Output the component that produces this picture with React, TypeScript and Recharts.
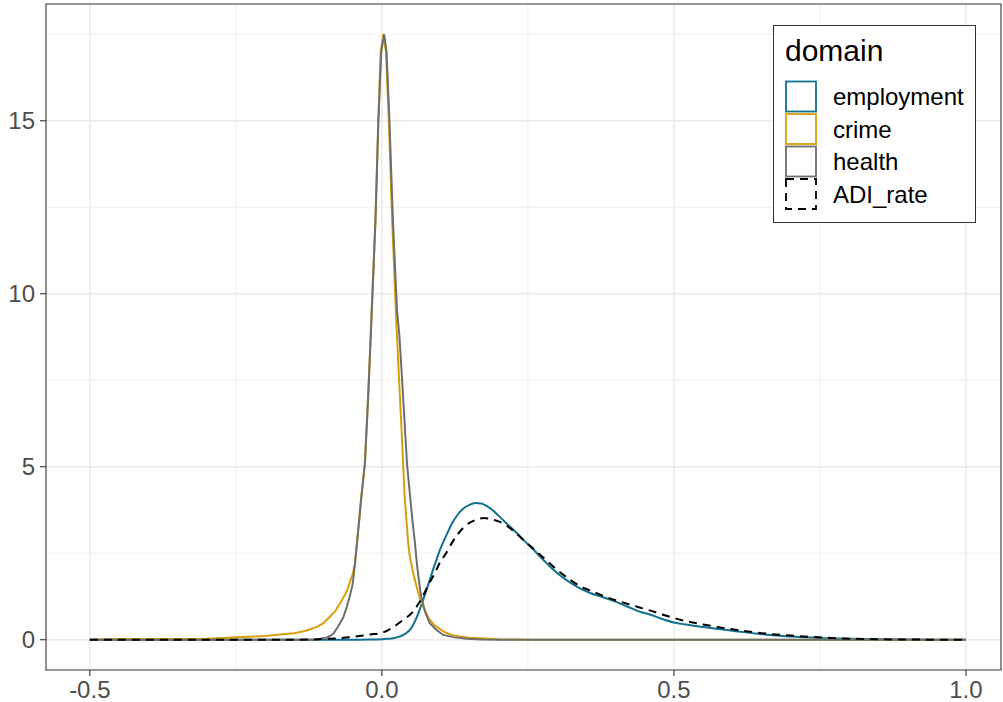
import React from 'react';
import { LineChart, Line, XAxis, YAxis, CartesianGrid, ReferenceArea, Legend } from 'recharts';

// ---- data ----
const seriesNames = ['employment', 'crime', 'health', 'ADI_rate'];
const seriesColors = ['#10708F', '#D89F0B', '#6E6E6E', '#000000'];

const xTicks = [-0.5, 0, 0.5, 1.0];
const yTicks = [0, 5, 10, 15];
const xMinor = [-0.25, 0.25, 0.75];
const yMinor = [2.5, 7.5, 12.5, 17.5];

const employmentX = [-0.5, -0.1, -0.04, -0.02, 0.0, 0.01, 0.02, 0.03, 0.04, 0.05, 0.06, 0.07, 0.08, 0.09, 0.10, 0.11, 0.12, 0.13, 0.14, 0.15, 0.16, 0.17, 0.18, 0.19, 0.20, 0.21, 0.22, 0.23, 0.24, 0.25, 0.26, 0.27, 0.28, 0.29, 0.30, 0.32, 0.34, 0.36, 0.38, 0.40, 0.42, 0.44, 0.46, 0.48, 0.50, 0.52, 0.55, 0.58, 0.61, 0.64, 0.67, 0.70, 0.75, 0.80, 0.85, 0.90, 0.95, 1.0];
const employmentY = [0, 0, 0, 0.003, 0.012, 0.025, 0.045, 0.09, 0.17, 0.33, 0.66, 1.12, 1.62, 2.14, 2.62, 3.0, 3.36, 3.62, 3.8, 3.9, 3.95, 3.94, 3.86, 3.74, 3.58, 3.42, 3.26, 3.1, 2.93, 2.76, 2.6, 2.42, 2.25, 2.08, 1.93, 1.68, 1.48, 1.33, 1.22, 1.1, 0.96, 0.82, 0.72, 0.6, 0.5, 0.44, 0.37, 0.3, 0.24, 0.18, 0.13, 0.09, 0.05, 0.03, 0.015, 0.007, 0.002, 0];

const crimeX = [-0.5, -0.45, -0.4, -0.35, -0.3, -0.27, -0.25, -0.22, -0.2, -0.17, -0.15, -0.13, -0.11, -0.1, -0.09, -0.08, -0.07, -0.06, -0.05, -0.046, -0.04, -0.035, -0.029, -0.0235, -0.0185, -0.011, -0.006, -0.002, 0.0025, 0.007, 0.012, 0.0177, 0.025, 0.0337, 0.039, 0.045, 0.048, 0.054, 0.06, 0.065, 0.07, 0.075, 0.08, 0.09, 0.1, 0.11, 0.12, 0.13, 0.15, 0.175, 0.2, 0.25, 0.5, 1.0];
const crimeY = [0, 0.02, 0.02, 0.02, 0.03, 0.05, 0.07, 0.09, 0.11, 0.16, 0.19, 0.26, 0.38, 0.48, 0.65, 0.82, 1.1, 1.4, 1.9, 2.2, 3.25, 4.15, 5.1, 7.0, 9.0, 12.1, 15.0, 17.0, 17.5, 17.0, 15.0, 12.1, 9.1, 6.07, 4.14, 2.8, 2.4, 1.9, 1.5, 1.2, 1.0, 0.8, 0.62, 0.42, 0.3, 0.2, 0.14, 0.1, 0.06, 0.035, 0.015, 0, 0, 0];

const healthX = [-0.5, -0.11, -0.1, -0.095, -0.09, -0.083, -0.075, -0.066, -0.06, -0.055, -0.05, -0.046, -0.04, -0.035, -0.029, -0.0235, -0.0185, -0.011, -0.006, -0.001, 0.004, 0.008, 0.013, 0.019, 0.026, 0.03, 0.0365, 0.043, 0.048, 0.052, 0.056, 0.06, 0.065, 0.068, 0.074, 0.082, 0.093, 0.105, 0.122, 0.145, 0.17, 0.2, 0.5, 1.0];
const healthY = [0, 0, 0.05, 0.06, 0.1, 0.17, 0.38, 0.65, 0.95, 1.25, 1.6, 2.2, 3.25, 4.15, 5.1, 7.0, 9.0, 12.1, 15.0, 17.0, 17.5, 17.0, 15.0, 12.1, 9.5, 8.8, 7.0, 5.1, 4.2, 3.5, 2.9, 2.2, 1.5, 1.2, 0.8, 0.48, 0.29, 0.14, 0.075, 0.03, 0.01, 0, 0, 0];

const adiX = [-0.5, -0.15, -0.1, -0.05, -0.02, 0.0, 0.02, 0.04, 0.05, 0.06, 0.07, 0.08, 0.09, 0.10, 0.11, 0.12, 0.13, 0.14, 0.15, 0.16, 0.175, 0.19, 0.20, 0.22, 0.24, 0.26, 0.28, 0.30, 0.32, 0.34, 0.36, 0.38, 0.40, 0.42, 0.44, 0.46, 0.48, 0.50, 0.52, 0.55, 0.60, 0.65, 0.70, 0.75, 0.80, 0.85, 0.90, 1.0];
const adiY = [0, 0, 0.02, 0.08, 0.15, 0.2, 0.37, 0.62, 0.75, 0.97, 1.25, 1.6, 1.9, 2.25, 2.5, 2.8, 3.05, 3.25, 3.38, 3.46, 3.52, 3.47, 3.42, 3.22, 2.92, 2.62, 2.32, 2.02, 1.76, 1.54, 1.4, 1.26, 1.14, 1.04, 0.94, 0.84, 0.73, 0.63, 0.54, 0.44, 0.3, 0.19, 0.12, 0.07, 0.03, 0.015, 0.005, 0];

const toPoints = (xs: number[], ys: number[]) => xs.map((x, i) => ({ x, y: ys[i] }));

const seriesData = [
  toPoints(employmentX, employmentY),
  toPoints(crimeX, crimeY),
  toPoints(healthX, healthY),
  toPoints(adiX, adiY),
];

const X_DOMAIN: [number, number] = [-0.575, 1.06];
const Y_DOMAIN: [number, number] = [-0.875, 18.375];

const FONT = '"Liberation Sans", Arial, Helvetica, sans-serif';

const renderLegend = () => {
  const keyTops = [56.5, 89, 121.5, 154];
  return (
    <svg width={203} height={198} style={{ display: 'block' }}>
      <rect x={0.5} y={0.5} width={202} height={197} fill="#FFFFFF" stroke="#333333" strokeWidth={1} />
      <text x={12} y={36} fontSize={30} fill="#000000" fontFamily={FONT}>domain</text>
      {seriesNames.map((name, i) => (
        <g key={name}>
          <rect
            x={13}
            y={keyTops[i]}
            width={30}
            height={30}
            fill="#FFFFFF"
            stroke={seriesColors[i]}
            strokeWidth={1.8}
            strokeDasharray={i === 3 ? '8 6' : undefined}
          />
          <text x={60} y={keyTops[i] + 23.5} fontSize={24} fill="#000000" fontFamily={FONT}>{name}</text>
        </g>
      ))}
    </svg>
  );
};

export default function App() {
  return (
    <div style={{ position: 'absolute', left: 0, top: 0, width: 1003, height: 702, background: '#FFFFFF' }}>
      <LineChart width={1003} height={702} margin={{ top: 4, right: 2, bottom: 0, left: 0 }} style={{ fontFamily: FONT }}>
        <CartesianGrid stroke="#EBEBEB" strokeWidth={0.8} horizontalValues={yMinor} verticalValues={xMinor} />
        <CartesianGrid stroke="#EBEBEB" strokeWidth={1.6} horizontalValues={yTicks} verticalValues={xTicks} />
        <XAxis
          dataKey="x"
          type="number"
          domain={X_DOMAIN}
          allowDataOverflow
          ticks={xTicks}
          interval={0}
          tickFormatter={(v: number) => v.toFixed(1)}
          height={32}
          axisLine={false}
          tickLine={{ stroke: '#333333', strokeWidth: 1.1 }}
          tickSize={6}
          tickMargin={5}
          tick={{ fill: '#4D4D4D', fontSize: 24, fontFamily: FONT }}
        />
        <YAxis
          type="number"
          domain={Y_DOMAIN}
          allowDataOverflow
          ticks={yTicks}
          interval={0}
          width={46}
          axisLine={false}
          tickLine={{ stroke: '#333333', strokeWidth: 1.1 }}
          tickSize={6}
          tickMargin={5}
          tick={{ fill: '#4D4D4D', fontSize: 24, fontFamily: FONT }}
        />
        {seriesNames.map((name, i) => (
          <Line
            key={name}
            name={name}
            data={seriesData[i]}
            dataKey="y"
            type={i === 0 || i === 3 ? 'monotone' : 'linear'}
            stroke={seriesColors[i]}
            strokeWidth={2}
            strokeDasharray={i === 3 ? '8 6' : undefined}
            dot={false}
            activeDot={false}
            isAnimationActive={false}
          />
        ))}
        <ReferenceArea
          x1={X_DOMAIN[0]}
          x2={X_DOMAIN[1]}
          y1={Y_DOMAIN[0]}
          y2={Y_DOMAIN[1]}
          fill="none"
          stroke="#333333"
          strokeWidth={1.1}
          ifOverflow="visible"
        />
        <Legend
          layout="vertical"
          align="center"
          verticalAlign="middle"
          content={renderLegend}
          wrapperStyle={{ left: 773, top: 25, width: 203, height: 198 }}
        />
      </LineChart>
    </div>
  );
}
